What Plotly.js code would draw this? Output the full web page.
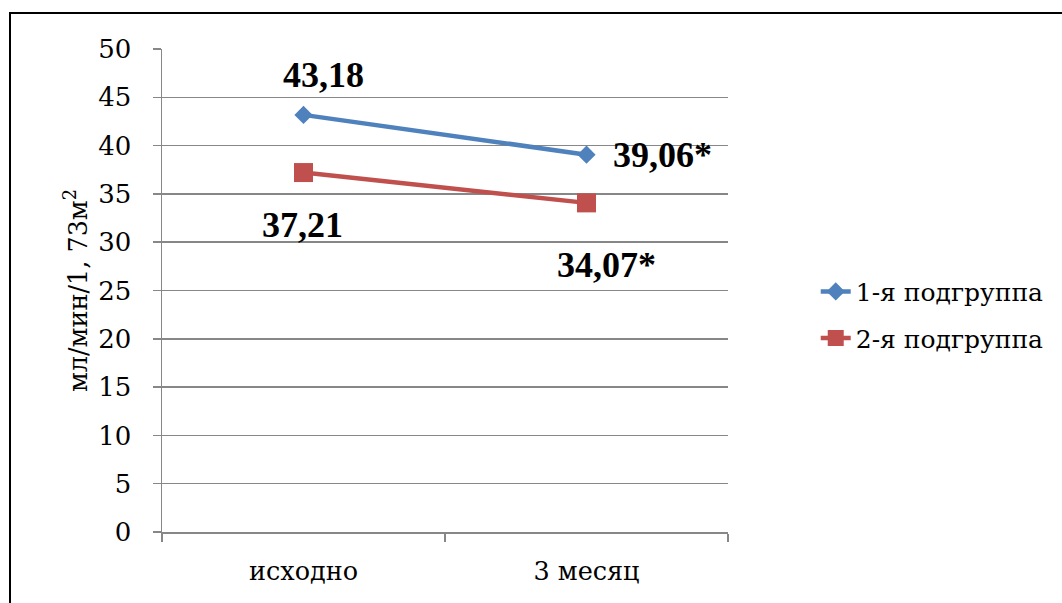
<!DOCTYPE html>
<html>
<head>
<meta charset="utf-8">
<script src="https://cdn.plot.ly/plotly-3.0.1.min.js"></script>
<style>
  html, body { margin: 0; padding: 0; background: #fff; }
  #wrap { position: relative; width: 1062px; height: 603px; overflow: hidden; }
  #chart { position: absolute; left: 0; top: 0; width: 1062px; height: 603px; }
  #frame { position: absolute; left: 9px; top: 12px; width: 1100px; height: 700px;
           border-top: 2px solid #000; border-left: 2px solid #000; pointer-events: none; }
</style>
</head>
<body>
<div id="wrap">
  <div id="chart"></div>
  <div id="frame"></div>
</div>
<script>
// Periods on the horizontal axis
const periods = ['исходно', '3 месяц'];
// Series names
const seriesNames = ['1-я подгруппа', '2-я подгруппа'];
// GFR values, ml/min/1.73 m²
const group1 = [43.18, 39.06];
const group2 = [37.21, 34.07];
// Significance marks appended to the labels
const group1Marks = ['', '*'];
const group2Marks = ['', '*'];
// Y axis ticks
const yTicks = [0, 5, 10, 15, 20, 25, 30, 35, 40, 45, 50];

const serifRegular = 'DejaVu Serif';
const serifBold = 'Liberation Serif';
const blue = '#4F81BD';
const red = '#C0504D';
const grid = '#878787';

function fmt(v, mark) { return v.toFixed(2).replace('.', ',') + mark; }

const traces = [
  {
    x: periods, y: group1, name: seriesNames[0], type: 'scatter', mode: 'lines+markers',
    line: { color: blue, width: 4.5 },
    marker: { symbol: 'diamond', size: 14, color: blue },
    legendgroup: 'g1'
  },
  {
    x: periods, y: group2, name: seriesNames[1], type: 'scatter', mode: 'lines+markers',
    line: { color: red, width: 4.5 },
    marker: { symbol: 'square', size: 19, color: red },
    legendgroup: 'g2'
  }
];

// Value labels placed around each point
const labelFont = { family: serifBold, size: 36, color: '#000', weight: 'bold' };
const offsets1 = [[20, 40], [76, 0]];
const offsets2 = [[-1, -52], [20, -62]];
const annotations = [];
group1.forEach((v, i) => annotations.push({
  x: periods[i], y: v, xref: 'x', yref: 'y', text: '<b>' + fmt(v, group1Marks[i]) + '</b>',
  showarrow: false, font: labelFont, xshift: offsets1[i][0], yshift: offsets1[i][1]
}));
group2.forEach((v, i) => annotations.push({
  x: periods[i], y: v, xref: 'x', yref: 'y', text: '<b>' + fmt(v, group2Marks[i]) + '</b>',
  showarrow: false, font: labelFont, xshift: offsets2[i][0], yshift: offsets2[i][1]
}));

const layout = {
  width: 1062, height: 603,
  margin: { l: 162, r: 334, t: 49, b: 71, pad: 0 },
  paper_bgcolor: '#fff', plot_bgcolor: '#fff',
  font: { family: serifRegular, color: '#000' },
  showlegend: true,
  legend: {
    x: 1.155, y: 0.45, xanchor: 'left', yanchor: 'middle',
    font: { family: serifRegular, size: 25, color: '#000' },
    traceorder: 'grouped', tracegroupgap: 11, bgcolor: 'rgba(0,0,0,0)'
  },
  xaxis: {
    type: 'category', range: [-0.5, 1.5],
    showline: true, linecolor: grid, linewidth: 1.5,
    showgrid: false, zeroline: false,
    ticks: 'outside', tickson: 'boundaries', ticklen: 8, tickcolor: grid, tickwidth: 1.5,
    tickfont: { family: serifRegular, size: 25.5, color: '#000' },
    ticklabelstandoff: 16
  },
  yaxis: {
    range: [0, 50], tickvals: yTicks, ticktext: yTicks.map(String),
    showline: true, linecolor: grid, linewidth: 1.5,
    showgrid: true, gridcolor: grid, gridwidth: 1.5, zeroline: false,
    ticks: 'outside', ticklen: 8, tickcolor: grid, tickwidth: 1.5,
    tickfont: { family: serifRegular, size: 26, color: '#000' },
    ticklabelstandoff: 16,
    title: { text: 'мл/мин/1, 73м<sup>2</sup>', font: { family: serifRegular, size: 25.5, color: '#000' }, standoff: 3 }
  },
  annotations: annotations
};

Plotly.newPlot('chart', traces, layout, { displayModeBar: false, staticPlot: true });
</script>
</body>
</html>
